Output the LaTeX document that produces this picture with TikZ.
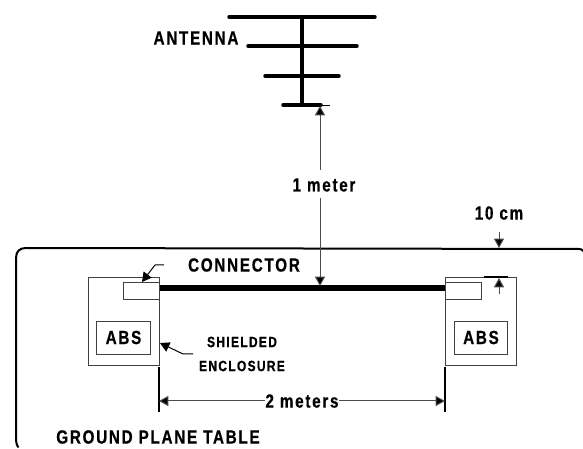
\documentclass[tikz,border=0pt]{standalone}
\usepackage{fontspec}
\setmainfont{Liberation Sans}[BoldFont={Liberation Sans Bold}]
\newfontfamily\lblfont{Liberation Sans Bold}[FakeStretch=0.8,LetterSpace=9,FakeBold=0.6]
\usetikzlibrary{arrows.meta}
\tikzset{
 lbl/.style={inner sep=0pt,font=\lblfont\fontsize{14.3}{16}\selectfont,text=black},
 small/.style={inner sep=0pt,font=\lblfont\fontsize{11.2}{13}\selectfont,text=black},
 boxl/.style={line width=0.7pt,draw=black!75,fill=none,inner sep=0pt},
 dim/.style={line width=0.75pt,draw=black!70,-{Triangle[length=7pt,width=7.5pt,fill=black]}},
 elem/.style={line width=2.6pt,line cap=round,draw=black},
}
\begin{document}
\begin{tikzpicture}[x=0.75pt,y=-0.75pt]
\useasboundingbox (0,0) rectangle (583,449);
% antenna
\coordinate (e1l) at (229,17); \coordinate (e1r) at (375,17);
\coordinate (e2l) at (248,46); \coordinate (e2r) at (357,46);
\coordinate (e3l) at (265,76); \coordinate (e3r) at (339,76);
\coordinate (e4l) at (283,105); \coordinate (e4r) at (321,105);
\coordinate (mt) at (302,17); \coordinate (mb) at (302,105);
\coordinate (e4t) at (330,105);
\draw[elem] (e1l) -- (e1r);
\draw[elem] (e2l) -- (e2r);
\draw[elem] (e3l) -- (e3r);
\draw[elem] (e4l) -- (e4r);
\draw[elem,line width=3pt,line cap=butt] (mt) -- (mb);
\draw[line width=0.7pt] (e4r) -- (e4t);
\node[lbl] (ant) at (196,38) {ANTENNA};
% table
\draw[line width=1.5pt,line cap=round] (583,251) .. controls (582,249.5) and (581,249) .. (579,249) -- (26,248) .. controls (20,248) and (16,251) .. (16,258) -- (16,440) .. controls (16,443) and (17,445) .. (18,447);
% enclosures
\node[boxl,draw,minimum width=53.6pt,minimum height=66pt,anchor=north west] (encL) at (87.5,277) {};
\node[boxl,draw,minimum width=53.6pt,minimum height=66pt,anchor=north west] (encR) at (445,277) {};
\node[boxl,draw,minimum width=27pt,minimum height=12.75pt,anchor=north east] (conL) at (encL.north east |- 0,282) {};
\node[boxl,draw,minimum width=27pt,minimum height=12.75pt,anchor=north west] (conR) at (encR.north west |- 0,282) {};
\node[boxl,draw,minimum width=40pt,minimum height=24.75pt] (absL) at (123.5,337.5) {};
\node[boxl,draw,minimum width=40pt,minimum height=24.75pt] (absR) at (481,337.5) {};
\node[lbl] (absLt) at (absL) {ABS};
\node[lbl] (absRt) at (absR) {ABS};
% cable
\coordinate (cabM) at (320,288);
\draw[line width=4.4pt] (encL.east |- cabM) -- (encR.west |- cabM);
\node[lbl] (conn) at (244,265) {CONNECTOR};
% 1 meter
\node[lbl] (m1) at (324,185) {1 meter};
\coordinate (m1a) at (320,170); \coordinate (m1b) at (320,198);
\coordinate (m1t) at (320,106); \coordinate (m1e) at (320,286);
\draw[dim] (m1a) -- (m1t);
\draw[dim] (m1b) -- (m1e);
% connector pointer
\coordinate (cp1) at (164,265); \coordinate (cp2) at (155,265); \coordinate (cp3) at (142,282);
\draw[dim,draw=black] (cp1) -- (cp2) -- (cp3);
% shielded pointer
\node[small] (sh1) at (242,342) {SHIELDED};
\node[small] (sh2) at (242,366) {ENCLOSURE};
\coordinate (sp1) at (193,354); \coordinate (sp2) at (183,354); \coordinate (sp3) at (160,343);
\draw[dim,draw=black] (sp1) -- (sp2) -- (sp3);
% 2 meters
\coordinate (dL1) at (159,367); \coordinate (dL2) at (159,412);
\coordinate (dR1) at (445,367); \coordinate (dR2) at (445,412);
\draw[line width=0.8pt] (dL1) -- (dL2);
\draw[line width=0.8pt] (dR1) -- (dR2);
\node[lbl] (m2) at (302,401) {2 meters};
\draw[dim] (m2.west) -- (dL1 |- m2);
\draw[dim] (m2.east) -- (dR1 |- m2);
% 10 cm
\node[lbl] (cm) at (499,213) {10 cm};
\coordinate (c1) at (499,232); \coordinate (c2) at (499,248);
\coordinate (c3) at (499,294); \coordinate (c4) at (499,278);
\coordinate (t1) at (484,277); \coordinate (t2) at (508,277);
\draw[dim] (c1) -- (c2);
\draw[dim] (c3) -- (c4);
\draw[line width=1.1pt] (t1) -- (t2);
\node[lbl] (gp) at (158,437) {GROUND PLANE TABLE};
\end{tikzpicture}
\end{document}
